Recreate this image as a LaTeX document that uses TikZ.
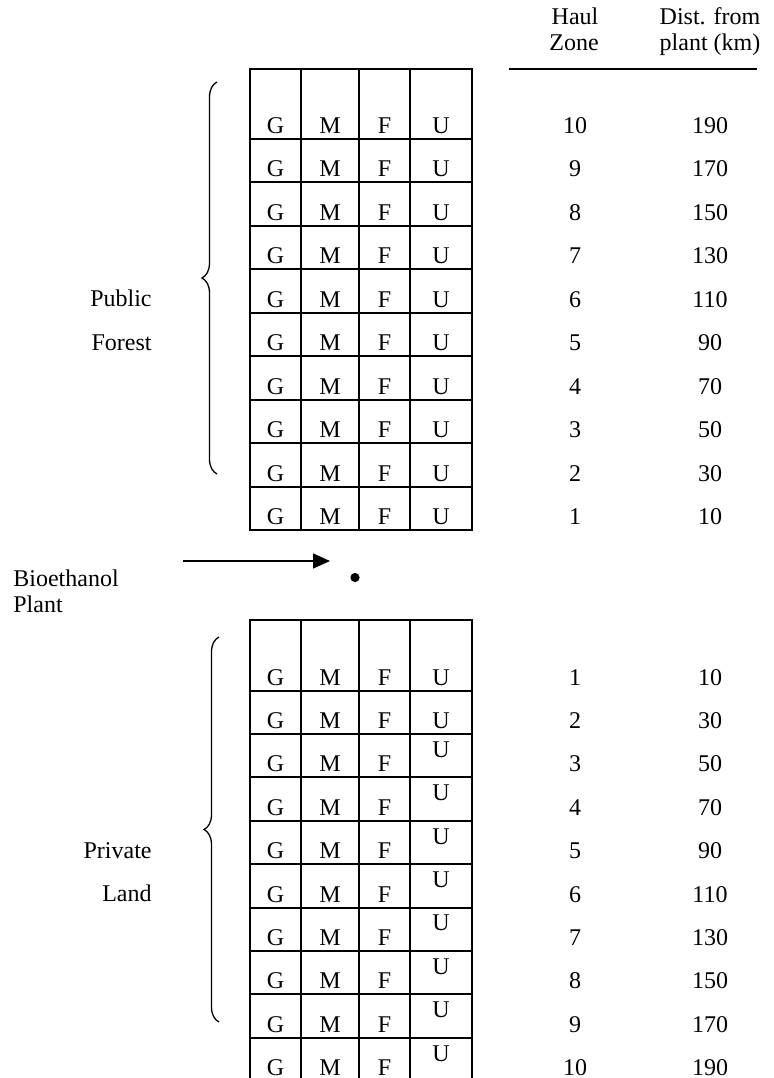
\documentclass[tikz,border=0pt]{standalone}
\usepackage{fontspec}
\setmainfont{Liberation Serif}
\usetikzlibrary{positioning,arrows.meta,decorations.pathreplacing}

\begin{document}
\begin{tikzpicture}[x=0.5pt, y=-0.5pt,
      txt/.style={font=\fontsize{12}{13}\selectfont, inner sep=0pt, anchor=base},
      gridline/.style={line width=1pt},
      brc/.style={decorate, decoration={brace, amplitude=7.5pt}, line width=0.65pt},
      arr/.style={-{Triangle[length=8.5pt, width=7.5pt]}, line width=0.65pt}]
    \useasboundingbox (0,0) rectangle (774,1078);

    % column heads
    \node[txt] (haul) at (575,24) {Haul};
    \node[txt] (zone) at (574,50) {Zone};
    \node[txt] (dist) at (710,24) {Dist. from};
    \node[txt] (km) at (710,50) {plant (km)};
    \draw[gridline] (509,69) -- (757,69);

    % public forest
    \draw[gridline] (250,69) rectangle (472,530);
    \foreach \x in {301,359,410} \draw[gridline] (\x,69) -- (\x,530);
    \foreach \k in {1,...,9} \draw[gridline] (250,{139+(\k-1)*43.44}) -- (472,{139+(\k-1)*43.44});
    \foreach \k in {1,...,10} {
      \pgfmathsetmacro{\yb}{139+(\k-1)*43.44-5.5}
      \pgfmathtruncatemacro{\z}{11-\k}
      \pgfmathtruncatemacro{\d}{20*\z-10}
      \node[txt] (pg\z) at (275.5,\yb) {G};
      \node[txt] (pm\z) at (330,\yb) {M};
      \node[txt] (pf\z) at (384.5,\yb) {F};
      \node[txt] (pu\z) at (441,\yb) {U};
      \node[txt] (pz\z) at (575,\yb) {\z};
      \node[txt] (pd\z) at (710,\yb) {\d};
    }
    \coordinate (pubtop) at (217,82);
    \coordinate (pubbot) at (217,474);
    \draw[brc] (pubbot) -- (pubtop);
    \node[txt, anchor=base east] (public) at (152,306.7) {Public};
    \node[txt, anchor=base east] (forest) at (152,350) {Forest};

    % plant
    \node[txt, anchor=base west] (bio) at (13,586) {Bioethanol};
    \node[txt, anchor=base west] (bioplant) at (13,612) {Plant};
    \coordinate (arrfrom) at (183,561);
    \coordinate (arrto) at (330,561);
    \draw[arr] (arrfrom) -- (arrto);
    \node[circle, fill, inner sep=0pt, minimum size=4.6pt] (site) at (355,577.5) {};

    % private land
    \draw[gridline] (250,1078) -- (250,620) -- (472,620) -- (472,1078);
    \foreach \x in {301,359,410} \draw[gridline] (\x,620) -- (\x,1078);
    \foreach \k in {1,...,9} \draw[gridline] (250,{690.5+(\k-1)*43.4}) -- (472,{690.5+(\k-1)*43.4});
    \foreach \k in {1,...,10} {
      \pgfmathsetmacro{\yb}{690.5+(\k-1)*43.4-5.5}
      \pgfmathsetmacro{\yu}{\k>2 ? \yb-14.5 : \yb}
      \pgfmathtruncatemacro{\d}{20*\k-10}
      \node[txt] (vg\k) at (275.5,\yb) {G};
      \node[txt] (vm\k) at (330,\yb) {M};
      \node[txt] (vf\k) at (384.5,\yb) {F};
      \node[txt] (vu\k) at (441,\yu) {U};
      \node[txt] (vz\k) at (575,\yb) {\k};
      \node[txt] (vd\k) at (710,\yb) {\d};
    }
    \coordinate (privtop) at (219,637);
    \coordinate (privbot) at (219,1022);
    \draw[brc] (privbot) -- (privtop);
    \node[txt, anchor=base east] (private) at (152,858) {Private};
    \node[txt, anchor=base east] (land) at (152,901) {Land};
  \end{tikzpicture}
\end{document}
